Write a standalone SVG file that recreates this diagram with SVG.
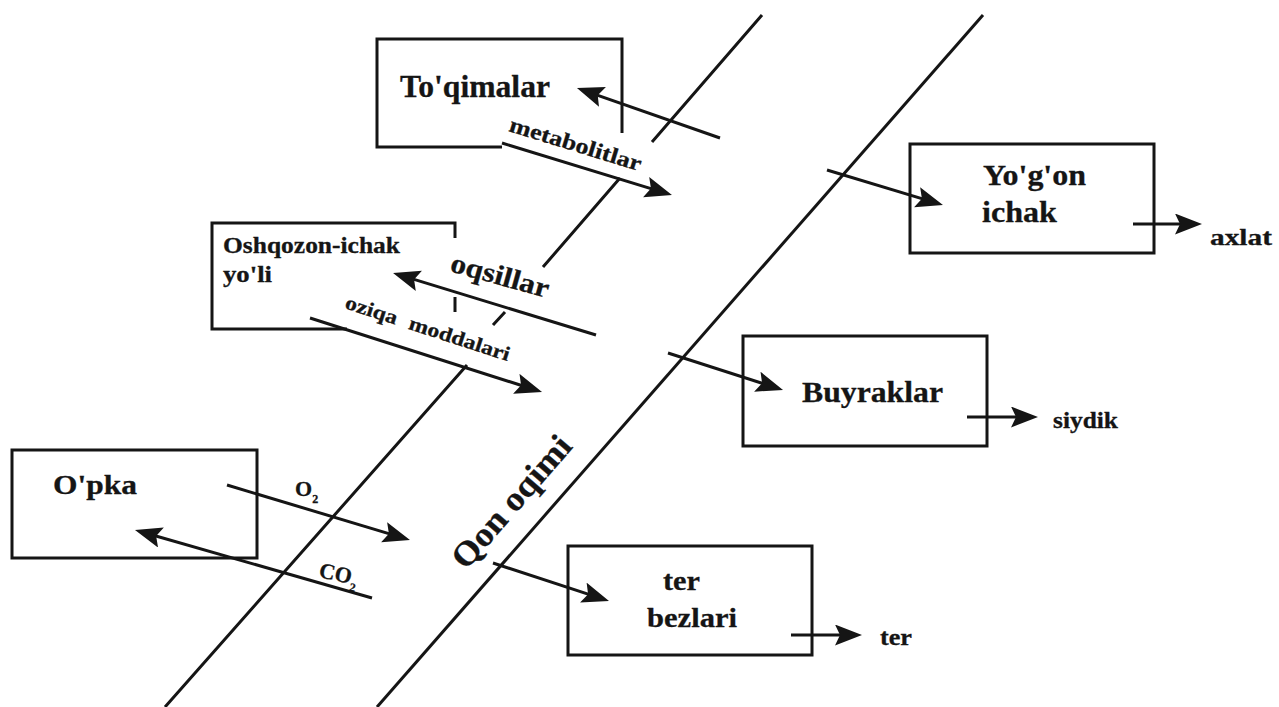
<svg xmlns="http://www.w3.org/2000/svg" width="1279" height="707" viewBox="0 0 1279 707">
<style>
.ln{fill:none;stroke:#151515;stroke-width:3}
.ar{fill:none;stroke:#151515;stroke-width:3;marker-end:url(#ah)}
.t{font-family:"Liberation Serif","Times New Roman",serif;font-weight:bold;fill:#151515;stroke:#151515;stroke-width:0.3}
</style>
<defs>
<marker id="ah" markerWidth="30" markerHeight="22" refX="17" refY="10.5" orient="auto" markerUnits="userSpaceOnUse">
<path d="M0,0 L27,10.5 L0,21 L5,10.5 Z" fill="#151515"/>
</marker>
</defs>
<rect width="1279" height="707" fill="#ffffff"/>
<g id="qon-oqimi">
<path class="ln" d="M762,15 L652,142 M620,178 L543,267 M505,312 L493,325 M467,365 L165,707"/>
<path class="ln" d="M983,15 L377,707"/>
<text class="t" font-size="34" textLength="164" lengthAdjust="spacingAndGlyphs" transform="translate(466,571) rotate(-49)">Qon oqimi</text>
</g>
<g id="toqimalar">
<path class="ln" d="M622,133 V39 H377 V147 H502"/>
<text class="t" x="400" y="97" font-size="31" textLength="150" lengthAdjust="spacingAndGlyphs">To'qimalar</text>
</g>
<g id="oshqozon">
<path class="ln" d="M455,238 V223 H212 V329 H347 M455,297 V312"/>
<text class="t" x="223" y="253" font-size="23" textLength="177" lengthAdjust="spacingAndGlyphs">Oshqozon-ichak</text>
<text class="t" x="223" y="282" font-size="23" textLength="49" lengthAdjust="spacingAndGlyphs">yo'li</text>
</g>
<g id="opka">
<rect class="ln" x="12" y="450" width="245" height="108"/>
<text class="t" x="53" y="494" font-size="28" textLength="84" lengthAdjust="spacingAndGlyphs">O'pka</text>
</g>
<g id="yogon-ichak">
<rect class="ln" x="910" y="144" width="244" height="109"/>
<text class="t" x="983" y="185" font-size="30" textLength="103" lengthAdjust="spacingAndGlyphs">Yo'g'on</text>
<text class="t" x="982" y="222" font-size="30" textLength="75" lengthAdjust="spacingAndGlyphs">ichak</text>
</g>
<g id="buyraklar">
<rect class="ln" x="743" y="336" width="244" height="110"/>
<text class="t" x="802" y="402" font-size="29" textLength="141" lengthAdjust="spacingAndGlyphs">Buyraklar</text>
</g>
<g id="ter-bezlari">
<rect class="ln" x="568" y="546" width="244" height="109"/>
<text class="t" x="663" y="590" font-size="28" textLength="37" lengthAdjust="spacingAndGlyphs">ter</text>
<text class="t" x="647" y="627" font-size="28" textLength="90" lengthAdjust="spacingAndGlyphs">bezlari</text>
</g>
<g id="connectors">
<path class="ar" d="M720,138 L586.4,91.3"/>
<path class="ar" d="M502,143 L662.4,192.1"/>
<path class="ar" d="M596,335 L402.6,275.9"/>
<path class="ar" d="M310,318 L532.5,389"/>
<path class="ar" d="M227,485 L400.4,537.1"/>
<path class="ar" d="M372,598 L144.6,532.8"/>
<path class="ar" d="M827,170 L933.4,202.1"/>
<path class="ar" d="M1133,224 L1192,224"/>
<path class="ar" d="M668,353 L773.5,386.9"/>
<path class="ar" d="M967,417 L1028,417"/>
<path class="ar" d="M493,563 L599.5,597.9"/>
<path class="ar" d="M791,635 L852,635"/>
<text class="t" font-size="22" textLength="137" lengthAdjust="spacingAndGlyphs" transform="translate(508,131) rotate(17)">metabolitlar</text>
<text class="t" font-size="28" textLength="101" lengthAdjust="spacingAndGlyphs" transform="translate(449,271) rotate(15.5)">oqsillar</text>
<text class="t" font-size="20" textLength="172" lengthAdjust="spacingAndGlyphs" word-spacing="6" transform="translate(344,308) rotate(18)">oziqa moddalari</text>
<text class="t" x="295" y="496" font-size="22">O<tspan font-size="12" dy="7">2</tspan></text>
<text class="t" font-size="22" transform="translate(318,577) rotate(12)">CO<tspan font-size="12" dy="7">2</tspan></text>
<text class="t" x="1210" y="245" font-size="24" textLength="62" lengthAdjust="spacingAndGlyphs">axlat</text>
<text class="t" x="1053" y="428" font-size="23" textLength="65" lengthAdjust="spacingAndGlyphs">siydik</text>
<text class="t" x="880" y="645" font-size="23" textLength="32" lengthAdjust="spacingAndGlyphs">ter</text>
</g>
</svg>
